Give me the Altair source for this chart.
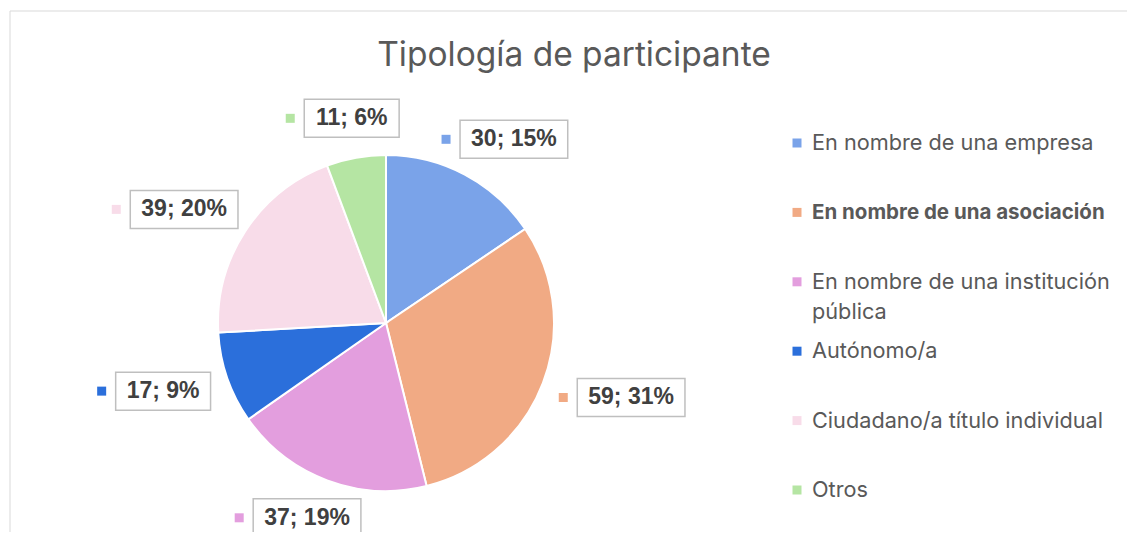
import altair as alt
import pandas as pd

TITLE = "Tipología de participante"
categories = [
    "En nombre de una empresa",
    "En nombre de una asociación",
    "En nombre de una institución\npública",
    "Autónomo/a",
    "Ciudadano/a título individual",
    "Otros",
]
values = [30, 59, 37, 17, 39, 11]
colors = ["#7AA3E9", "#F1AA84", "#E39EDE", "#2B6FDB", "#F8DCE9", "#B5E5A3"]
bold_category = "En nombre de una asociación"

df = pd.DataFrame({"cat": categories, "value": values, "order": list(range(len(values)))})

W, H = 1119, 524
CX, CY = 378, 315       # pie centre (plot coords)
R = 168                 # pie radius
RP = R + 21             # label anchor radius
BH = 38                 # label box height

color = alt.Color("cat:N", scale=alt.Scale(domain=categories, range=colors), legend=None)

base = alt.Chart(df)

pie = base.mark_arc(outerRadius=R, stroke="white", strokeWidth=2, x=CX, y=CY).encode(
    theta=alt.Theta("value:Q", stack=True),
    order=alt.Order("order:Q"),
    color=color,
)

lab = (
    base.transform_window(cum="sum(value)", sort=[alt.SortField("order")], frame=[None, 0])
    .transform_joinaggregate(total="sum(value)")
    .transform_calculate(p="datum.value / datum.total * 100")
    .transform_calculate(fl="floor(datum.p)", rem="datum.p - floor(datum.p)")
    .transform_joinaggregate(sumfl="sum(fl)")
    .transform_window(rk="row_number()", sort=[alt.SortField("rem", order="descending")])
    .transform_calculate(pct="datum.fl + (datum.rk <= 100 - datum.sumfl ? 1 : 0)")
    .transform_calculate(label="datum.value + '; ' + datum.pct + '%'")
    .transform_calculate(
        mid="(datum.cum - datum.value / 2) / datum.total * 2 * PI",
        bw="12.8 * (length(datum.label) - 3) + 56.5",
    )
    .transform_calculate(
        gcx=f"{CX} + {RP} * sin(datum.mid) + (datum.bw + 19) / 2 * sin(datum.mid)",
        gcy=f"{CY} - ({RP} + {BH/2}) * cos(datum.mid)",
    )
    .transform_calculate(bxc="datum.gcx + 9.5")
    .transform_calculate(
        bx1="datum.bxc - datum.bw / 2",
        bx2="datum.bxc + datum.bw / 2",
        by1=f"datum.gcy - {BH/2}",
        by2=f"datum.gcy + {BH/2}",
        mx="datum.bxc - datum.bw / 2 - 14",
    )
)

boxes = lab.mark_rect(fill="white", stroke="#BFBFBF", strokeWidth=1.5).encode(
    x=alt.X("bx1:Q", scale=None), x2="bx2:Q",
    y=alt.Y("by1:Q", scale=None), y2="by2:Q",
)
texts = lab.mark_text(font="Liberation Sans", fontSize=23, fontWeight="bold",
                      color="#404040", align="center", baseline="middle").encode(
    x=alt.X("bxc:Q", scale=None), y=alt.Y("gcy:Q", scale=None), text="label:N"
)
markers = lab.mark_square(size=81, opacity=1).encode(
    x=alt.X("mx:Q", scale=None), y=alt.Y("gcy:Q", scale=None), color=color
)

ly = alt.Y("cat:N", sort=categories, scale=alt.Scale(domain=categories, range=[135, 482], padding=0), axis=None)
leg_sq = base.mark_square(size=81, opacity=1).encode(x=alt.value(789), y=ly, color=color)
leg_txt = base.transform_filter(f"datum.cat != '{bold_category}'").mark_text(
    font="Inter", fontSize=21.7, color="#595959", align="left", baseline="top", dy=-10,
    lineBreak="\n", lineHeight=30,
).encode(x=alt.value(804), y=ly, text="cat:N")
leg_bold = base.transform_filter(f"datum.cat == '{bold_category}'").mark_text(
    font="Inter", fontSize=20.5, fontWeight="bold", color="#595959", align="left",
    baseline="top", dy=-9,
).encode(x=alt.value(804), y=ly, text="cat:N")

title = alt.Chart(pd.DataFrame({"t": [TITLE]})).mark_text(
    font="Inter", fontSize=33.5, color="#595959", align="center", baseline="middle"
).encode(x=alt.value(566), y=alt.value(48), text="t:N")

frame_top = alt.Chart(pd.DataFrame({"t": [0]})).mark_rule(color="#D9D9D9", strokeWidth=1).encode(
    x=alt.value(2), x2=alt.value(W), y=alt.value(3))
frame_left = alt.Chart(pd.DataFrame({"t": [0]})).mark_rule(color="#D9D9D9", strokeWidth=1).encode(
    x=alt.value(2), y=alt.value(3), y2=alt.value(H))

chart = alt.layer(
    frame_top, frame_left, title, pie, boxes, markers, texts, leg_sq, leg_txt, leg_bold
).resolve_scale(y="independent", x="independent").properties(
    width=W, height=H, autosize=alt.AutoSizeParams(type="none"), padding=0
).configure_view(stroke=None)

chart.save("out.html", embed_options={"renderer": "svg", "actions": False})
